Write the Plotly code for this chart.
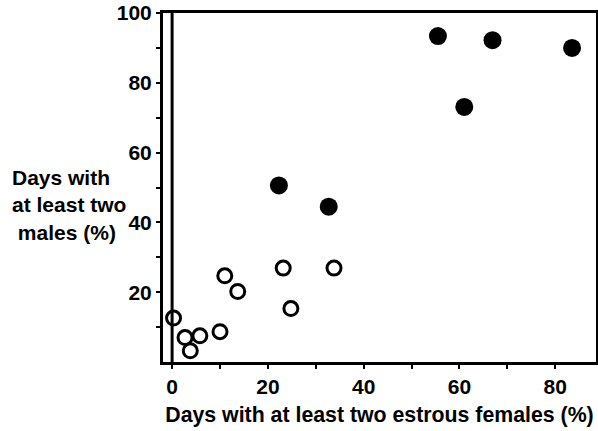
import plotly.graph_objects as go

# Open circles: days with >=2 estrous females (%) vs days with >=2 males (%)
open_x = [0.3, 2.7, 3.8, 5.8, 10.0, 11.0, 13.7, 23.2, 24.8, 33.8]
open_y = [12.6, 7.0, 3.2, 7.5, 8.7, 24.7, 20.2, 26.9, 15.3, 26.9]
# Filled circles
fill_x = [22.3, 32.7, 55.5, 61.0, 66.9, 83.5]
fill_y = [50.6, 44.5, 93.4, 73.1, 92.2, 90.0]

x_tickvals = [0, 10, 20, 30, 40, 50, 60, 70, 80]
x_ticktext = ["0", "", "20", "", "40", "", "60", "", "80"]
y_tickvals = [10, 20, 30, 40, 50, 60, 70, 80, 90, 100]
y_ticktext = ["", "20", "", "40", "", "60", "", "80", "", "100"]

font_family = "Liberation Sans, Arial, Helvetica, sans-serif"
bold = dict(family=font_family, size=21, color="black", weight="bold")
title_font = dict(family=font_family, size=21.3, color="black", weight="bold")

fig = go.Figure()
fig.add_trace(go.Scatter(
    x=open_x, y=open_y, mode="markers",
    marker=dict(symbol="circle-open", size=14, color="black", line=dict(width=3, color="black")),
    showlegend=False, hoverinfo="skip"))
fig.add_trace(go.Scatter(
    x=fill_x, y=fill_y, mode="markers",
    marker=dict(symbol="circle", size=18, color="black"),
    showlegend=False, hoverinfo="skip"))

fig.add_shape(type="line", x0=0, x1=0, y0=0, y1=100, xref="x", yref="y",
              line=dict(color="black", width=3), layer="below")

fig.add_annotation(
    text="Days with<br>at least two<br>&nbsp;males (%)",
    xref="paper", yref="paper", x=-153 / 433, y=0.45, xanchor="left", yanchor="middle",
    showarrow=False, align="left", font=bold)

fig.update_layout(
    width=598, height=431,
    margin=dict(l=163, r=2, t=13, b=69),
    paper_bgcolor="white", plot_bgcolor="white",
    font=bold,
    xaxis=dict(range=[-1.9, 88.5], tickvals=x_tickvals, ticktext=x_ticktext,
               ticks="outside", ticklen=4, tickwidth=2, tickcolor="black",
               showline=True, linewidth=3, linecolor="black", mirror=True,
               showgrid=False, zeroline=False, automargin=False,
               tickfont=bold,
               title=dict(text="Days with at least two estrous females (%)",
                          font=title_font, standoff=10)),
    yaxis=dict(range=[0, 100], tickvals=y_tickvals, ticktext=y_ticktext,
               ticks="outside", ticklen=4, tickwidth=2, tickcolor="black",
               showline=True, linewidth=3, linecolor="black", mirror=True,
               showgrid=False, zeroline=False, automargin=False,
               tickfont=bold),
)

fig.write_html("out.html", config={"displayModeBar": False},
               post_script="document.body.style.margin='0';document.body.style.overflow='hidden';")
